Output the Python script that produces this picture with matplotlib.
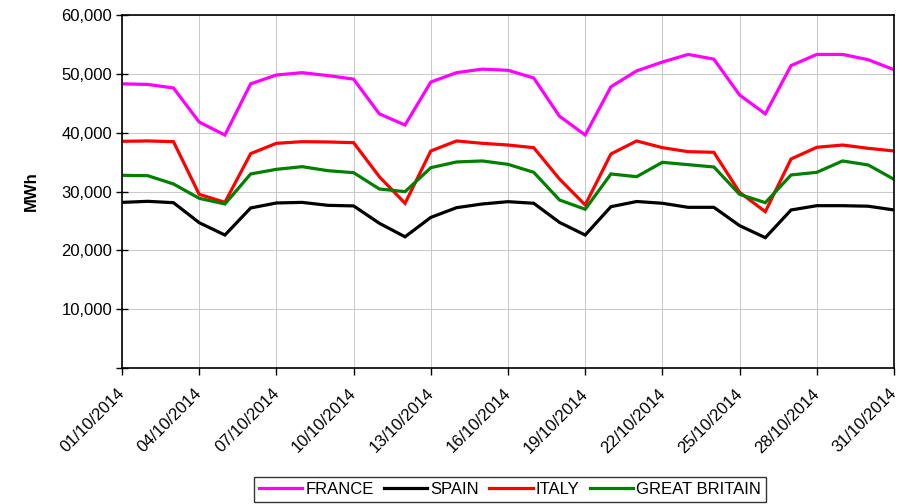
"""
Daily electricity consumption, October 2014 (MWh)
"""

import matplotlib
matplotlib.use("Agg")
import matplotlib.pyplot as plt
import matplotlib.dates as mdates
import matplotlib.ticker as mticker
import matplotlib.transforms as mtransforms
import pandas as pd

plt.rcParams["font.family"] = ["Liberation Sans", "DejaVu Sans"]

dates = pd.date_range("2014-10-01", "2014-10-31", freq="D")

france = [48300, 48200, 47600, 41800, 39600, 48300, 49800, 50200, 49700, 49100,
          43200, 41300, 48600, 50200, 50800, 50600, 49300, 42800, 39600, 47800,
          50500, 52000, 53300, 52500, 46400, 43200, 51400, 53300, 53300, 52400,
          50700]
spain = [28150, 28330, 28100, 24700, 22600, 27200, 28050, 28150, 27650, 27550,
         24600, 22300, 25600, 27250, 27880, 28270, 28000, 24750, 22600, 27420,
         28300, 28000, 27310, 27310, 24200, 22150, 26860, 27590, 27590, 27500,
         26860]
italy = [38530, 38590, 38470, 29520, 28160, 36430, 38190, 38470, 38420, 38300,
         32520, 27990, 36890, 38590, 38190, 37900, 37450, 32130, 27710, 36380,
         38590, 37450, 36770, 36660, 29860, 26570, 35530, 37510, 37900, 37340,
         36890]
great_britain = [32750, 32690, 31280, 28840, 27880, 32980, 33770, 34220, 33540, 33200,
                 30430, 29970, 34050, 35020, 35190, 34620, 33260, 28560, 26980, 32980,
                 32520, 34960, 34560, 34170, 29520, 28100, 32810, 33260, 35190, 34510,
                 32070]

series = [("FRANCE", france, "#FF00FF"),
          ("SPAIN", spain, "#000000"),
          ("ITALY", italy, "#FF0000"),
          ("GREAT BRITAIN", great_britain, "#008000")]

fig = plt.figure(figsize=(9.04, 5.04), dpi=100)
ax = fig.add_axes([122 / 904, 1 - 368 / 504, (894 - 122) / 904, (368 - 15) / 504])

for name, vals, col in series:
    ax.plot(dates, vals, color=col, lw=2.3, label=name, solid_joinstyle="miter")

ax.set_xlim(dates[0], dates[-1])
ax.set_ylim(0, 60000)
ax.yaxis.set_major_locator(mticker.MultipleLocator(10000))
# no label at zero, like the original
ax.yaxis.set_major_formatter(mticker.FuncFormatter(lambda v, p: f"{v:,.0f}" if v > 0 else ""))
ax.xaxis.set_major_locator(mdates.DayLocator(bymonthday=range(1, 32, 3)))
ax.xaxis.set_major_formatter(mdates.DateFormatter("%d/%m/%Y"))

ax.grid(True, color="#C8C8C8", lw=0.7)
ax.set_axisbelow(True)
for s in ax.spines.values():
    s.set_color("black")
    s.set_linewidth(1.2)

ax.tick_params(axis="y", direction="inout", length=8, width=1, labelsize=12, pad=3)
ax.tick_params(axis="x", direction="out", length=5, width=1, labelsize=12, pad=8)
# nudge the rotated date labels a little to the left
shift = mtransforms.ScaledTranslation(-5 / 100, 0, fig.dpi_scale_trans)
for lbl in ax.get_xticklabels():
    lbl.set_rotation(45)
    lbl.set_ha("right")
    lbl.set_rotation_mode("anchor")
    lbl.set_transform(lbl.get_transform() + shift)

ax.set_ylabel("MWh", fontsize=12, fontweight="bold", labelpad=16)

leg = fig.legend(loc="upper center", bbox_to_anchor=(510 / 904, 1 - 477 / 504),
                 ncol=4, fontsize=12, frameon=True, fancybox=False,
                 edgecolor="black", handlelength=2.6, handletextpad=0.2,
                 columnspacing=0.6, borderpad=0.3, borderaxespad=0)
leg.get_frame().set_linewidth(1)

fig.savefig("out.png", dpi=100)
